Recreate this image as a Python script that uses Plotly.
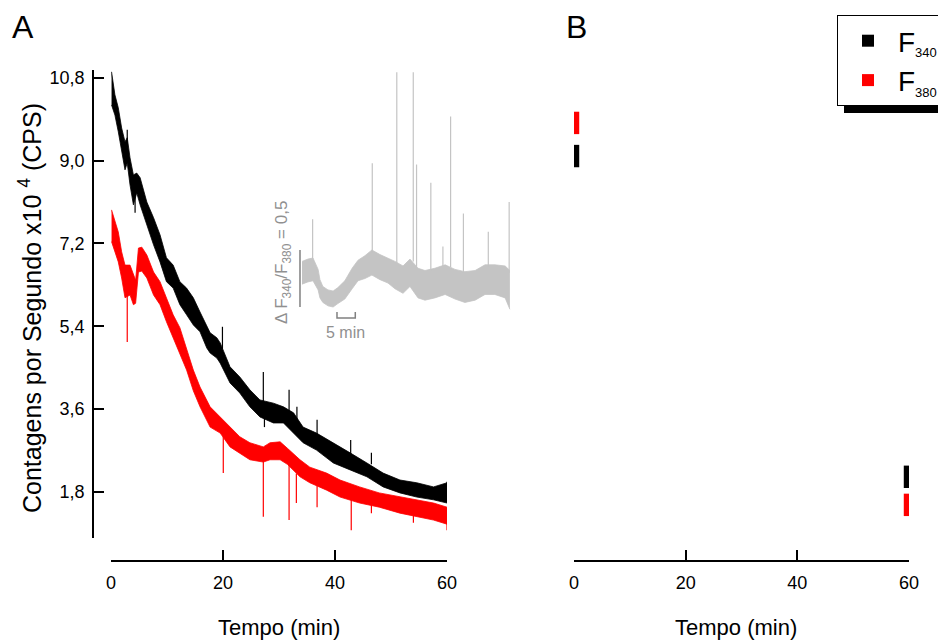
import plotly.graph_objects as go

W, H = 938, 644
FONT = "Liberation Sans, Arial, sans-serif"

# ---------------- Panel A: F340 (black) band ----------------
BLACK_T = [0.1, 0.7, 1.3, 1.9, 2.5, 2.9, 3.4, 4.0, 4.6, 5.2, 6.4, 7.6, 8.75, 9.9, 11.1,
           12.3, 13.5, 14.7, 15.9, 17.1, 17.7, 18.9, 19.5, 21.25, 23.0, 24.8, 26.6, 29.0,
           30.8, 32.6, 34.3, 36.7, 39.7, 42.7, 45.7, 48.6, 51.6, 54.6, 57.6, 60.0]
BLACK_LO = [10.21, 9.99, 9.63, 9.19, 8.80, 8.95, 8.47, 8.04, 8.30, 8.04, 7.60, 7.17, 6.80, 6.37, 6.23,
            5.87, 5.65, 5.43, 5.28, 4.93, 4.82, 4.71, 4.60, 4.17, 3.95, 3.65, 3.43, 3.30,
            3.30, 3.08, 2.87, 2.71, 2.43, 2.28, 2.13, 1.91, 1.78, 1.69, 1.63, 1.56]
BLACK_HI = [10.93, 10.43, 10.15, 9.71, 9.41, 9.50, 9.06, 8.69, 8.73, 8.63, 8.10, 7.76, 7.39, 6.89, 6.73,
            6.37, 6.23, 6.02, 5.71, 5.43, 5.26, 5.15, 5.04, 4.52, 4.30, 4.02, 3.80, 3.73,
            3.65, 3.52, 3.21, 3.08, 2.87, 2.65, 2.43, 2.21, 2.06, 2.00, 1.91, 2.00]
BLACK_SPIKE_T = [2.9, 4.3, 19.9, 27.2, 27.4, 31.8, 33.2, 36.8, 42.8, 46.5, 60.0]
BLACK_SPIKE_BASE = [9.20, 8.30, 4.90, 3.70, 3.60, 3.50, 3.30, 3.00, 2.60, 2.40, 1.90]
BLACK_SPIKE_TIP = [9.67, 7.87, 5.39, 4.41, 3.21, 4.02, 3.65, 3.37, 2.93, 2.65, 2.02]

# ---------------- Panel A: F380 (red) band ----------------
RED_T = [0.1, 0.7, 1.3, 1.9, 2.5, 3.4, 4.0, 4.4, 4.9, 5.5, 6.4, 7.6, 8.75, 9.9, 11.1,
         12.3, 13.5, 14.7, 15.9, 17.7, 19.5, 21.25, 23.0, 24.8, 27.2, 28.4, 30.2, 31.5,
         33.75, 35.5, 38.5, 40.9, 44.4, 47.9, 51.6, 54.6, 57.6, 60.0]
RED_LO = [7.24, 7.02, 6.80, 6.45, 6.02, 6.08, 5.87, 5.90, 6.58, 6.60, 6.45, 6.08, 5.87, 5.50, 5.15,
          4.84, 4.45, 4.00, 3.65, 3.21, 3.08, 2.78, 2.65, 2.50, 2.45, 2.50, 2.50, 2.40,
          2.13, 2.00, 1.84, 1.69, 1.56, 1.47, 1.34, 1.26, 1.19, 1.10]
RED_HI = [7.93, 7.67, 7.45, 7.02, 6.73, 6.73, 6.52, 6.40, 7.10, 7.12, 6.95, 6.58, 6.37, 6.02, 5.65,
          5.37, 4.90, 4.45, 4.08, 3.65, 3.43, 3.21, 3.00, 2.87, 2.78, 2.87, 2.89, 2.75,
          2.50, 2.34, 2.21, 2.06, 1.91, 1.78, 1.69, 1.63, 1.56, 1.47]
RED_SPIKE_T = [2.9, 20.05, 27.2, 31.8, 33.1, 36.8, 42.9, 46.5, 54.0, 60.0]
RED_SPIKE_BASE = [6.20, 3.00, 2.50, 2.40, 2.20, 2.00, 1.70, 1.55, 1.35, 1.20]
RED_SPIKE_TIP = [5.06, 2.21, 1.26, 1.19, 1.56, 1.47, 0.97, 1.34, 1.13, 0.97]

# ---------------- Inset: F340/F380 ratio ----------------
INSET_T = [0, 1.6, 3.0, 4.4, 4.9, 5.7, 7.1, 8.5, 9.8, 11.7, 13.7, 15.3, 17.2, 19.1, 21.3,
           23.5, 25.4, 27.6, 29.5, 31.7, 33.6, 36.3, 39.1, 41.8, 44.5, 47.3, 50.0, 52.7, 55.5, 56.8]
INSET_LO = [0.80, 0.82, 0.83, 0.75, 0.68, 0.64, 0.61, 0.60, 0.63, 0.67, 0.76, 0.83, 0.85, 0.88, 0.84,
            0.81, 0.76, 0.72, 0.78, 0.68, 0.66, 0.68, 0.71, 0.67, 0.64, 0.66, 0.71, 0.71, 0.68, 0.58]
INSET_HI = [1.00, 1.02, 1.03, 0.93, 0.84, 0.78, 0.75, 0.74, 0.77, 0.83, 0.94, 1.01, 1.05, 1.10, 1.06,
            1.03, 1.00, 0.96, 1.02, 0.94, 0.92, 0.94, 0.97, 0.93, 0.91, 0.92, 0.97, 0.97, 0.96, 0.92]
INSET_SPIKE_T = [2.9, 19.2, 25.9, 30.4, 31.3, 35.2, 38.5, 40.6, 44.1, 50.9, 56.6]
INSET_SPIKE_BASE = [1.00, 1.08, 0.98, 1.00, 0.95, 0.92, 0.95, 0.95, 0.90, 0.95, 0.90]
INSET_SPIKE_TIP = [1.37, 1.86, 2.66, 2.66, 1.85, 1.69, 1.13, 2.27, 1.42, 1.26, 1.52]
SCALE_MIN = 5.0          # horizontal scale bar (min)
SCALE_RATIO = 0.5        # vertical scale bar (F340/F380)
SCALE_T0 = 9.56
SCALE_R0 = 0.6
SCALE_BAR_T = -0.55
SCALE_H_R = 0.5035
SCALE_H_TICK = 0.556

# ---------------- Panel B ----------------
B_T = [0.4, 59.6]
B_F340 = [9.10, 2.13]
B_F380 = [9.82, 1.52]

X_TICKS = [0, 20, 40, 60]
Y_TICKS = [1.8, 3.6, 5.4, 7.2, 9.0, 10.8]
Y_TICK_TEXT = ["1,8", "3,6", "5,4", "7,2", "9,0", "10,8"]


def px_x(p):
    return p / W


def px_y(p):
    return 1 - p / H


def spikes(ts, bases, tips):
    xs, ys = [], []
    for t, b, tp in zip(ts, bases, tips):
        xs += [t, t, None]
        ys += [b, tp, None]
    return xs, ys


fig = go.Figure()


def band(t, lo, hi, color, xa, ya, lw=0.8):
    fig.add_trace(go.Scatter(x=t, y=lo, mode="lines", line=dict(color=color, width=lw),
                             xaxis=xa, yaxis=ya, showlegend=False, hoverinfo="skip"))
    fig.add_trace(go.Scatter(x=t, y=hi, mode="lines", line=dict(color=color, width=lw),
                             fill="tonexty", fillcolor=color,
                             xaxis=xa, yaxis=ya, showlegend=False, hoverinfo="skip"))


band(RED_T, RED_LO, RED_HI, "#ff0000", "x", "y")
sx, sy = spikes(RED_SPIKE_T, RED_SPIKE_BASE, RED_SPIKE_TIP)
fig.add_trace(go.Scatter(x=sx, y=sy, mode="lines", line=dict(color="#ff0000", width=1.2),
                         xaxis="x", yaxis="y", showlegend=False))
band(BLACK_T, BLACK_LO, BLACK_HI, "#000000", "x", "y")
sx, sy = spikes(BLACK_SPIKE_T, BLACK_SPIKE_BASE, BLACK_SPIKE_TIP)
fig.add_trace(go.Scatter(x=sx, y=sy, mode="lines", line=dict(color="#000000", width=1.2),
                         xaxis="x", yaxis="y", showlegend=False))

# inset
GRAY = "#c4c4c4"
band(INSET_T, INSET_LO, INSET_HI, GRAY, "x3", "y3")
sx, sy = spikes(INSET_SPIKE_T, INSET_SPIKE_BASE, INSET_SPIKE_TIP)
fig.add_trace(go.Scatter(x=sx, y=sy, mode="lines", line=dict(color=GRAY, width=1.2),
                         xaxis="x3", yaxis="y3", showlegend=False))
fig.add_trace(go.Scatter(x=[SCALE_BAR_T, SCALE_BAR_T], y=[SCALE_R0, SCALE_R0 + SCALE_RATIO],
                         mode="lines", line=dict(color="#808080", width=1.5),
                         xaxis="x3", yaxis="y3", showlegend=False))
fig.add_trace(go.Scatter(x=[SCALE_T0, SCALE_T0, SCALE_T0 + SCALE_MIN, SCALE_T0 + SCALE_MIN],
                         y=[SCALE_H_TICK, SCALE_H_R, SCALE_H_R, SCALE_H_TICK],
                         mode="lines", line=dict(color="#808080", width=1.5),
                         xaxis="x3", yaxis="y3", showlegend=False))

# panel B markers
fig.add_trace(go.Scatter(x=B_T, y=B_F340, mode="markers", xaxis="x2", yaxis="y2", showlegend=False,
                         marker=dict(symbol="line-ns", size=16, line=dict(width=6, color="#000000"))))
fig.add_trace(go.Scatter(x=B_T, y=B_F380, mode="markers", xaxis="x2", yaxis="y2", showlegend=False,
                         marker=dict(symbol="line-ns", size=16, line=dict(width=6, color="#ff0000"))))

# legend entries
PAD = "&nbsp;" * 12
fig.add_trace(go.Scatter(x=[None], y=[None], mode="markers", xaxis="x2", yaxis="y2",
                         marker=dict(symbol="square", size=12, color="#000000"),
                         name="F<sub><span style='font-size:13px'>340</span></sub>" + PAD))
fig.add_trace(go.Scatter(x=[None], y=[None], mode="markers", xaxis="x2", yaxis="y2",
                         marker=dict(symbol="square", size=12, color="#ff0000"),
                         name="F<sub><span style='font-size:13px'>380</span></sub>" + PAD))

axis_common = dict(showgrid=False, zeroline=False, showline=True, linecolor="black", linewidth=1.5,
                   ticks="inside", ticklen=10, tickwidth=1.5, tickcolor="black",
                   tickfont=dict(family=FONT, size=18, color="black"))

Y_RANGE = [0.8, 10.97]
Y_DOMAIN = [px_y(538), px_y(70)]
X_POS = px_y(561)


def label(text, x, y, size, color="black", angle=0):
    return dict(text=text, x=px_x(x), y=px_y(y), xref="paper", yref="paper", showarrow=False,
                xanchor="center", yanchor="middle", textangle=angle,
                font=dict(size=size, family=FONT, color=color))


fig.update_layout(
    width=W, height=H,
    margin=dict(l=0, r=0, t=0, b=0, autoexpand=False),
    paper_bgcolor="white", plot_bgcolor="white",
    separators=",.",
    font=dict(family=FONT, color="black"),
    xaxis=dict(domain=[px_x(111), px_x(447)], range=[0, 60], anchor="free", position=X_POS,
               tickvals=X_TICKS, ticklabelstandoff=6, **axis_common),
    yaxis=dict(domain=Y_DOMAIN, range=Y_RANGE, anchor="free", position=px_x(93),
               tickvals=Y_TICKS, ticktext=Y_TICK_TEXT, ticklabelstandoff=4, **axis_common),
    xaxis2=dict(domain=[px_x(574), px_x(909)], range=[0, 60], anchor="free", position=X_POS,
                tickvals=X_TICKS, ticklabelstandoff=6, **axis_common),
    yaxis2=dict(domain=Y_DOMAIN, range=Y_RANGE, anchor="x2", visible=False),
    xaxis3=dict(domain=[px_x(295), px_x(515)], range=[-1.913, 58.197], visible=False, anchor="y3"),
    yaxis3=dict(domain=[px_y(340), px_y(65)], range=[0.3105, 2.7228], visible=False, anchor="x3"),
    showlegend=True,
    legend=dict(x=px_x(837), y=px_y(15), xanchor="left", yanchor="top", traceorder="normal",
                bordercolor="black", borderwidth=1, bgcolor="white", itemwidth=50,
                font=dict(family=FONT, size=28, color="black"), tracegroupgap=0),
    shapes=[dict(type="rect", xref="paper", yref="paper", x0=px_x(844), x1=1.02,
                 y0=px_y(113), y1=px_y(96), fillcolor="black", line=dict(width=0), layer="below")],
    annotations=[
        label("A", 23, 27, 32),
        label("B", 576, 27, 32),
        label("Contagens por Segundo x10 <sup>4</sup> (CPS)", 30, 308, 25, angle=-90),
        label("Tempo (min)", 279, 627, 22),
        label("Tempo (min)", 736, 627, 22),
        label("5 min", 345, 333, 16, color="#909090"),
        label("\u0394 F<sub>340</sub>/F<sub>380</sub> = 0,5", 283, 263, 17, color="#909090", angle=-90),
    ],
)

fig.write_html("out.html")
